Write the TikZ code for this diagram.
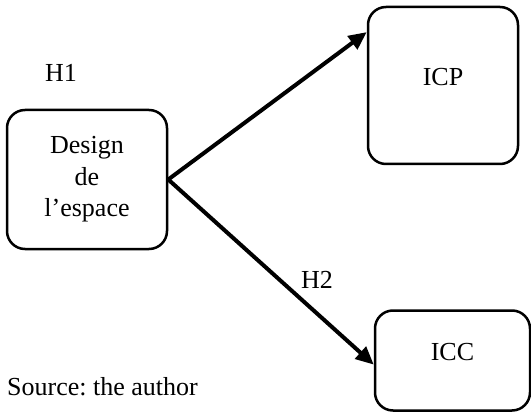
\documentclass[tikz,border=0pt]{standalone}
\usepackage{fontspec}
\setmainfont{Liberation Serif}
\usetikzlibrary{arrows.meta}
\usetikzlibrary{positioning,calc}
\frenchspacing

\begin{document}
\begin{tikzpicture}[x=1pt,y=-1pt,font=\fontsize{26}{31.5}\selectfont,
		box/.style={draw, line width=2.5pt, rounded corners=18pt, align=center, inner sep=0pt},
		outbox/.style={box, text depth=18pt},
		link/.style={-{Triangle[length=18pt,width=16pt]}, line width=4pt}]
		\useasboundingbox (0,0) rectangle (531,412);
		
		\node[box, minimum width=160pt, minimum height=139pt] (design) at (87,179.5) {Design\\de\\l'espace};
		\node[outbox, minimum width=150pt, minimum height=157pt] (icp) at (443,85.5) {ICP};
		\node[outbox, minimum width=155pt, minimum height=100pt] (icc) at (452.5,360.5) {ICC};
		
		\node[anchor=base] (h1) at (61,82) {H1};
		\node[anchor=base] (h2) at (317,288) {H2};
		\node[anchor=base west, inner sep=0pt] (source) at (7,395) {Source: the author};
		
		\draw[link] (design.east) -- (icp.145);
		\draw[link] (design.east) -- (icc.183);
	
	\end{tikzpicture}
\end{document}
